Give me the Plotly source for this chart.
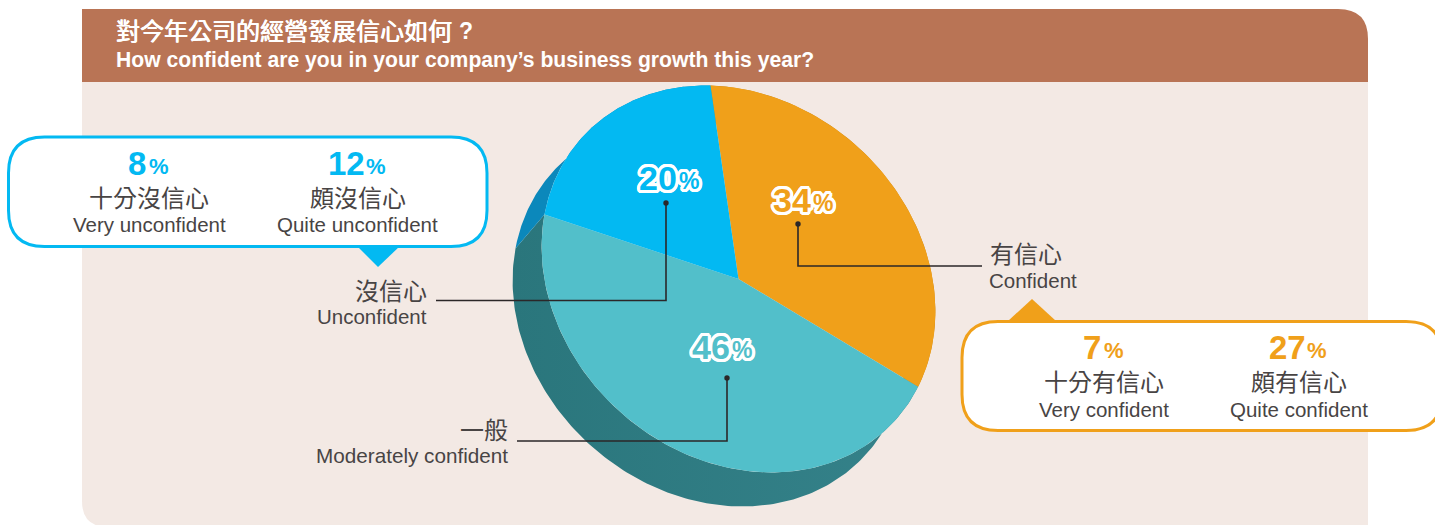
import numpy as np
import plotly.graph_objects as go

# ---------- data ----------
categories_zh = ["有信心", "一般", "沒信心"]
categories_en = ["Confident", "Moderately confident", "Unconfident"]
pie_values = [34, 46, 20]
top_colors = ["#f0a01a", "#52bfca", "#03b9f2"]
side_colors = ["#c98514", "#2f7b82", "#0b88bb"]

unconf_values = [8, 12]
unconf_zh = ["十分沒信心", "頗沒信心"]
unconf_en = ["Very unconfident", "Quite unconfident"]
conf_values = [7, 27]
conf_zh = ["十分有信心", "頗有信心"]
conf_en = ["Very confident", "Quite confident"]

title_zh = "對今年公司的經營發展信心如何 ?"
title_en = "How confident are you in your company’s business growth this year?"

# ---------- style ----------
BLUE, ORANGE = "#03b9f2", "#f0a01a"
TEXT = "#484444"
LINE = "#2b2728"
FONT = "Liberation Sans, Noto Sans CJK TC, sans-serif"
CX, CY, A, B, ROT = 738.5, 279, 211, 178, np.radians(42)
DX, DY = -29, 34
START = -135.4


def ell(t):
    t = np.radians(t)
    u, v = A * np.cos(t), B * np.sin(t)
    return CX + u * np.cos(ROT) - v * np.sin(ROT), CY + u * np.sin(ROT) + v * np.cos(ROT)


def rr(x0, y0, x1, y1, r=None, tl=0, tr=0, br=0, bl=0):
    if r is not None:
        tl = tr = br = bl = r
    return (f"M{x0+tl},{y0} L{x1-tr},{y0} Q{x1},{y0} {x1},{y0+tr} L{x1},{y1-br} "
            f"Q{x1},{y1} {x1-br},{y1} L{x0+bl},{y1} Q{x0},{y1} {x0},{y1-bl} "
            f"L{x0},{y0+tl} Q{x0},{y0} {x0+tl},{y0} Z")


fig = go.Figure()

# slices, computed from the values
spans = np.array(pie_values) / sum(pie_values) * 360
starts = START + np.concatenate([[0], np.cumsum(spans)[:-1]])

for s, w, col in zip(starts, spans, side_colors):
    x, y = ell(np.linspace(s, s + w, 160))
    trace = dict(x=np.r_[x, (x + DX)[::-1]], y=np.r_[y, (y + DY)[::-1]], mode="lines",
                 fill="toself", line=dict(width=0), hoverinfo="skip", showlegend=False)
    if col == side_colors[1]:
        trace["fillgradient"] = dict(type="horizontal",
                                     colorscale=[[0, "#2a767c"], [1, "#35828a"]])
    else:
        trace["fillcolor"] = col
    fig.add_trace(go.Scatter(**trace))

for s, w, col, name in zip(starts, spans, top_colors, categories_en):
    x, y = ell(np.linspace(s, s + w, 160))
    fig.add_trace(go.Scatter(x=np.r_[CX, x, CX], y=np.r_[CY, y, CY], mode="lines", fill="toself",
                             fillcolor=col, line=dict(width=0), name=name, showlegend=False))

shapes = [
    dict(type="path", path=rr(82, 82, 1368, 527, bl=26), fillcolor="#f3e9e4", line_width=0, layer="below"),
    dict(type="path", path=rr(82, 9, 1368, 82, tr=30), fillcolor="#b97455", line_width=0, layer="below"),
    dict(type="path", path="M357,246 L400,246 L378,267 Z", fillcolor=BLUE, line_width=0),
    dict(type="path", path="M1008,321 L1056,321 L1032,299 Z", fillcolor=ORANGE, line_width=0),
    dict(type="path", path=rr(8.5, 137, 487, 246.5, 36), fillcolor="white", line=dict(color=BLUE, width=3)),
    dict(type="path", path=rr(962, 321.5, 1442, 430.5, 36), fillcolor="white", line=dict(color=ORANGE, width=3)),
]
for pts in (["M436,300.5", "L666,300.5", "L666,203"],
            ["M982,266", "L798,266", "L798,224"],
            ["M517,441", "L727,441", "L727,378"]):
    shapes.append(dict(type="path", path=" ".join(pts), line=dict(color=LINE, width=1.6)))
for dx, dy in ((666, 203), (798, 224), (727, 378)):
    shapes.append(dict(type="circle", x0=dx - 2.7, x1=dx + 2.7, y0=dy - 2.7, y1=dy + 2.7,
                       fillcolor=LINE, line_width=0))

ann = []


def txt(x, y, s, size, color=TEXT, anchor="center", weight=None, shadow=None):
    f = dict(family=FONT, size=size, color=color)
    if weight:
        f["weight"] = weight
    if shadow:
        f["shadow"] = shadow
    ann.append(dict(x=x, y=y, text=s, font=f, showarrow=False, xanchor=anchor, yanchor="middle",
                    xref="x", yref="y", borderpad=0, borderwidth=0))


# title: regular CJK thickened slightly, bold question mark
txt(116, 31, title_zh[:-2], 24, "white", "left", None, "0.45px 0 0 #fff, -0.2px 0 0 #fff")
txt(459, 31, title_zh[-1], 23, "white", "left", 700)
txt(116, 59.5, title_en, 21.15, "white", "left", 700)

# outlined pie labels
halo = ", ".join(f"{3*np.cos(a):.2f}px {3*np.sin(a):.2f}px 0 #fff" for a in np.linspace(0, 2 * np.pi, 24, endpoint=False))
for v, col, x, y in zip(pie_values, top_colors, (773, 692, 639), (200, 347, 178)):
    txt(x, y, str(v), 34, col, "left", 700, halo)
    txt(x + 40, y + 3, "%", 23, col, "left", 700, halo)

# breakdown cards
for v, x, w in zip(unconf_values, (128, 328), (21, 38)):
    txt(x, 163, str(v), 33, BLUE, "left", 700)
    txt(x + w, 166, "%", 22, BLUE, "left", 700)
for z, e, x in zip(unconf_zh, unconf_en, (149, 357.5)):
    txt(x, 198.5, z, 24)
    txt(x, 224, e, 20.5)
for v, x, w in zip(conf_values, (1083, 1269), (21, 38)):
    txt(x, 347, str(v), 33, ORANGE, "left", 700)
    txt(x + w, 350, "%", 22, ORANGE, "left", 700)
for z, e, x in zip(conf_zh, conf_en, (1104, 1299)):
    txt(x, 382.5, z, 24)
    txt(x, 409, e, 20.5)

# category labels
txt(989.5, 254.5, categories_zh[0], 24, anchor="left")
txt(989, 280, categories_en[0], 20.5, anchor="left")
txt(427, 291, categories_zh[2], 24, anchor="right")
txt(427, 316, categories_en[2], 20.5, anchor="right")
txt(508, 430.5, categories_zh[1], 24, anchor="right")
txt(508, 455, categories_en[1], 20.7, anchor="right")

fig.update_layout(
    width=1435, height=525, autosize=False, margin=dict(l=0, r=0, t=0, b=0),
    paper_bgcolor="white", plot_bgcolor="white",
    xaxis=dict(range=[0, 1435], visible=False, fixedrange=True),
    yaxis=dict(range=[525, 0], visible=False, fixedrange=True),
    shapes=shapes, annotations=ann, showlegend=False,
)
fig.write_html("out.html", config=dict(displayModeBar=False),
               post_script="document.body.style.margin='0';document.body.style.overflow='hidden';")
